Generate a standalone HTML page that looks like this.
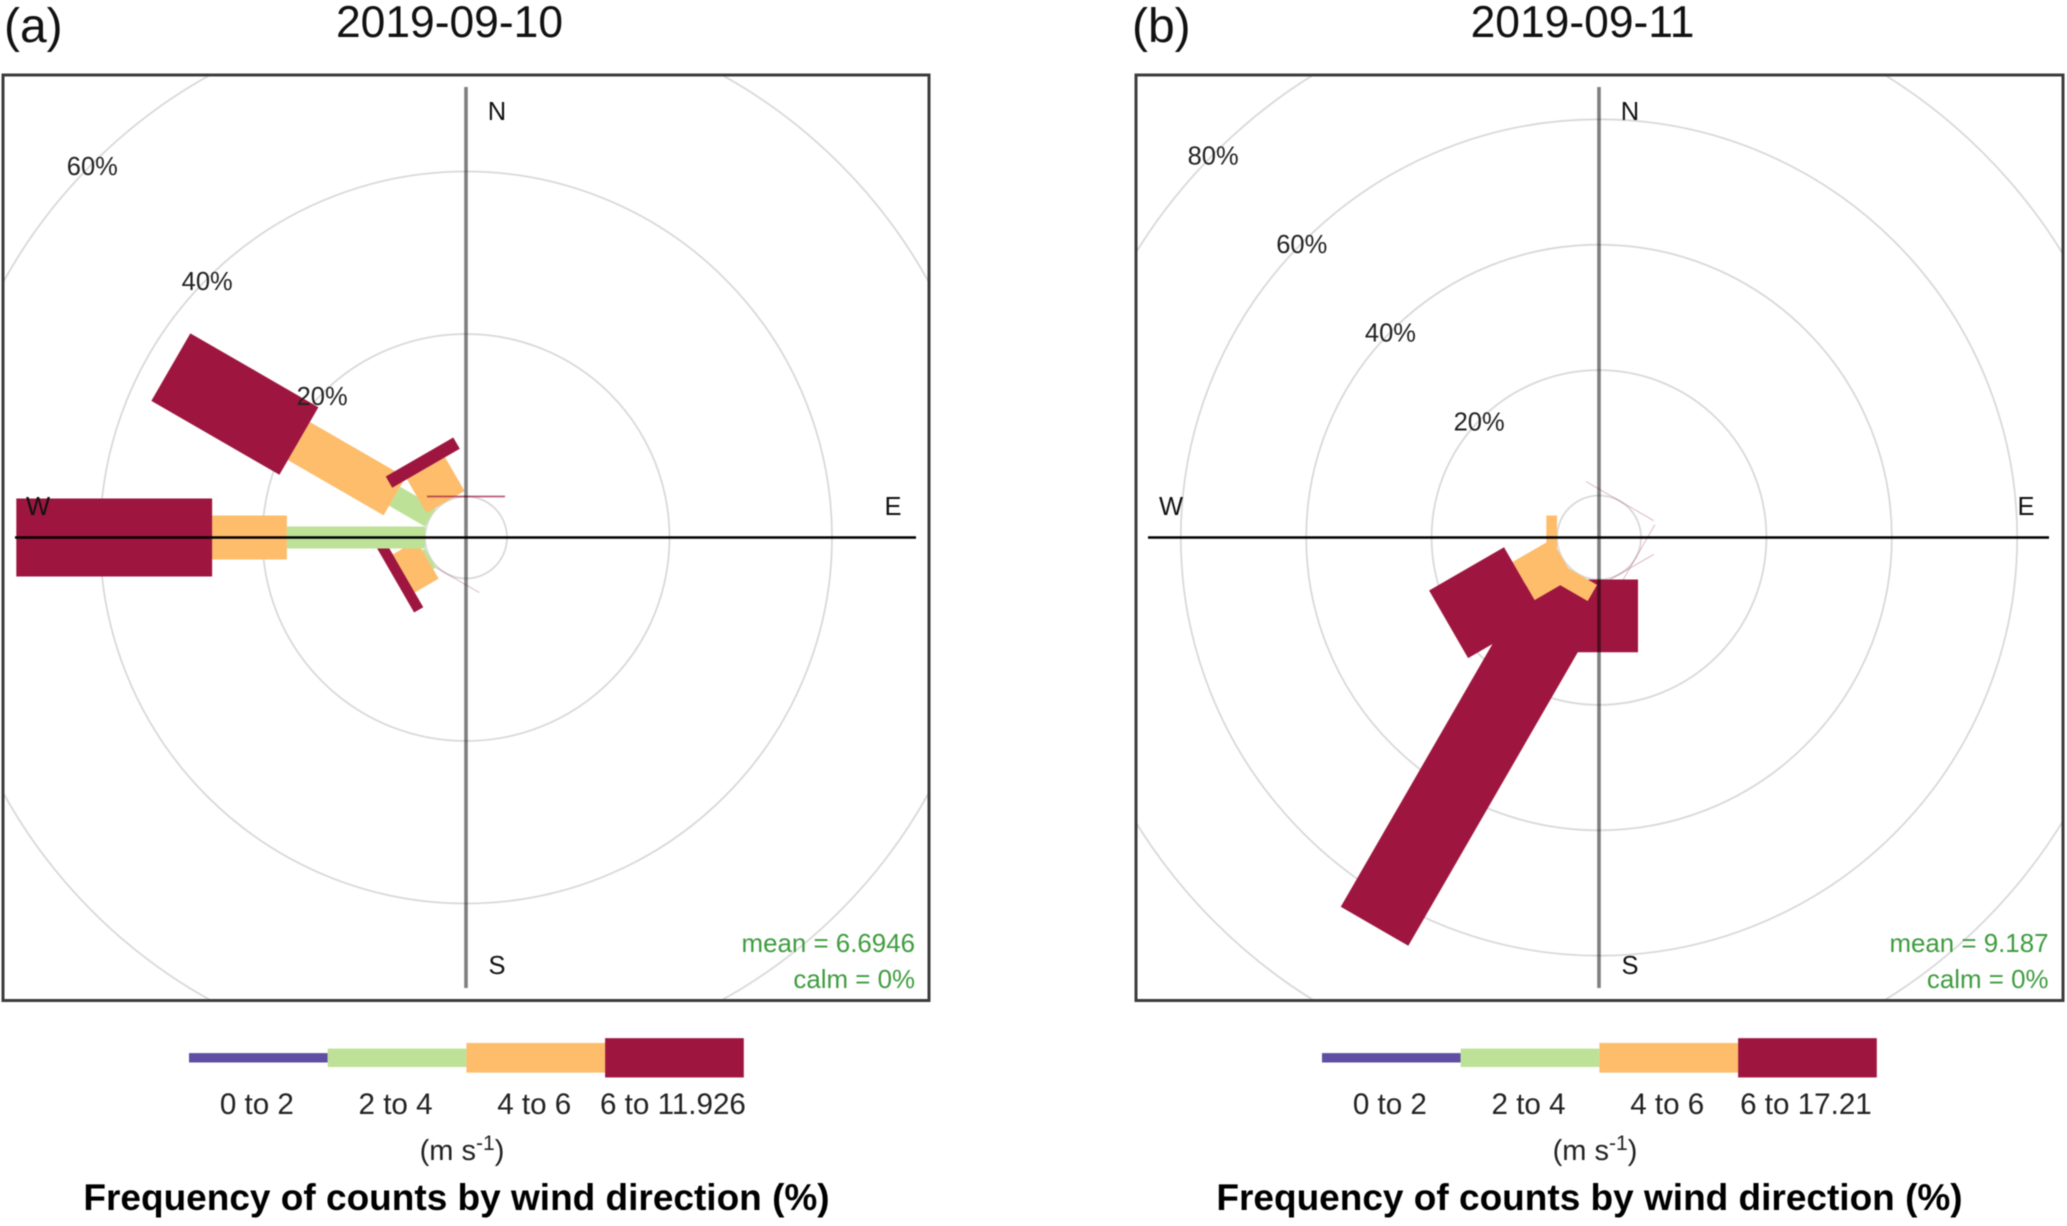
<!DOCTYPE html>
<html lang="en">
<head>
<meta charset="utf-8">
<title>Wind roses 2019-09-10 and 2019-09-11</title>
<style>
html,body{margin:0;padding:0;background:#fff;}
svg{display:block;font-family:"Liberation Sans",Arial,sans-serif;filter:blur(0.55px);}
</style>
</head>
<body>
<svg id="chart" xmlns="http://www.w3.org/2000/svg" width="2067" height="1226" viewBox="0 0 2067 1226">
  <rect x="0" y="0" width="2067" height="1226" fill="#ffffff"/>
  <defs>
    <clipPath id="clip-a"><rect x="3" y="75" width="926" height="926"/></clipPath>
    <clipPath id="clip-b"><rect x="1136" y="75" width="927" height="926"/></clipPath>
  </defs>
</svg>
<script>
// Panel (a) data: percent frequency by direction and speed bin
const directionsA = [210, 240, 270, 300, 330, 360];
const green2to4A = [0, 0.4, 17.0, 5.1, 0, 0];
const orange4to6A = [0, 3.4, 9.2, 13.6, 4.8, 0];
const maroon6plusA = [0, 1.3, 24.1, 18.2, 1.6, 0];
const ringTicksA = [20, 40, 60];
const legendLabelsA = ['0 to 2', '2 to 4', '4 to 6', '6 to 11.926'];
const titleA = '2019-09-10';
const tagA = '(a)';
const meanTextA = 'mean = 6.6946';

// Panel (b) data
const directionsB = [30, 120, 150, 180, 210, 240, 270];
const green2to4B = [0, 0, 0, 0, 0, 0, 0];
const orange4to6B = [0, 0, 0, 0, 3.0, 7.2, 1.7];
const maroon6plusB = [0, 0, 0, 11.6, 61.9, 13.8, 0];
const ringTicksB = [20, 40, 60, 80];
const legendLabelsB = ['0 to 2', '2 to 4', '4 to 6', '6 to 17.21'];
const titleB = '2019-09-11';
const tagB = '(b)';
const meanTextB = 'mean = 9.187';

const calmText = 'calm = 0%';
const axisTitle = 'Frequency of counts by wind direction (%)';

const NS = 'http://www.w3.org/2000/svg';
const svg = document.getElementById('chart');
const COL = {purple: '#5e4fa2', green: '#bde297', orange: '#fdbd6b', maroon: '#9e163f'};

function make(tag, attrs, parent) {
  const el = document.createElementNS(NS, tag);
  for (const k in attrs) el.setAttribute(k, attrs[k]);
  (parent || svg).appendChild(el);
  return el;
}

function drawText(parent, str, x, y, size, anchor, fill, weight) {
  const t = make('text', {x: x, y: y, 'font-size': size, 'text-anchor': anchor, fill: fill, 'font-weight': weight || 'normal'}, parent);
  t.textContent = str;
  return t;
}

function drawPanel(p) {
  const panel = make('g', {});
  
  

  const rScale = pct => p.r0 + pct * p.step;
  const px = (dir, r) => p.cx + r * Math.sin(dir * Math.PI / 180);
  const py = (dir, r) => p.cy - r * Math.cos(dir * Math.PI / 180);

  const tag = drawText(panel, p.tag, p.tagX, 42, 48, 'start', '#111');
  
  

  const title = drawText(panel, p.title, p.titleX, 37, 44.4, 'middle', '#111');
  
  

  const clipped = make('g', {'clip-path': 'url(#clip-' + p.id + ')'}, panel);
  
  

  // grid rings
  [0].concat(p.ticks).forEach(tick => {
    const ring = make('circle', {cx: p.cx, cy: p.cy, r: rScale(tick), fill: 'none', stroke: '#d9d9d9', 'stroke-width': 1.8}, clipped);
    
    
  });

  // bars
  const halfWidth = {green: 11, orange: 22, maroon: 39};
  const segment = (dir, from, to, key) => {
    const hw = halfWidth[key];
    const c = Math.cos(dir * Math.PI / 180), s = Math.sin(dir * Math.PI / 180);
    const r1 = rScale(from), r2 = rScale(to);
    const pts = [
      [px(dir, r1) - hw * c, py(dir, r1) - hw * s],
      [px(dir, r1) + hw * c, py(dir, r1) + hw * s],
      [px(dir, r2) + hw * c, py(dir, r2) + hw * s],
      [px(dir, r2) - hw * c, py(dir, r2) - hw * s]
    ].map(q => q[0].toFixed(2) + ',' + q[1].toFixed(2)).join(' ');
    return make('polygon', {points: pts, fill: COL[key]}, clipped);
  };
  p.dirs.forEach((dir, i) => {
    const g = p.green[i], o = p.orange[i], m = p.maroon[i];
    if (g + o + m === 0) {
      const line = segment(dir, 0, 0, 'maroon');
      line.setAttribute('fill', 'none');
      line.setAttribute('stroke', COL.maroon);
      line.setAttribute('stroke-width', dir === 360 ? 1.8 : 1);
      line.setAttribute('stroke-opacity', dir === 360 ? 0.7 : 0.3);
      
      
      return;
    }
    if (g > 0) {
      const bar = segment(dir, 0, g, 'green');
      
      
    }
    if (o > 0) {
      const bar = segment(dir, g, g + o, 'orange');
      
      
    }
    if (m > 0) {
      const bar = segment(dir, g + o, g + o + m, 'maroon');
      
      
    }
  });

  // axes cross
  const ns = make('line', {x1: p.cx, y1: 87, x2: p.cx, y2: 988, stroke: '#000', 'stroke-opacity': 0.5, 'stroke-width': 3.6}, panel);
  
  
  const ew = make('line', {x1: p.cx - 451, y1: p.cy, x2: p.cx + 450, y2: p.cy, stroke: '#000', 'stroke-width': 2.4}, panel);
  
  

  // ring labels at 315 degrees
  p.ticks.forEach(tick => {
    const lab = drawText(panel, tick + '%', px(315, rScale(tick)) + p.ringLabelDx, py(315, rScale(tick)) + 11.2, 25.5, 'middle', '#222');
    
    
  });

  // compass labels
  const compass = [['N', 31, 120], ['S', 31, 974], ['W', -428, 515], ['E', 427, 515]];
  compass.forEach(cp => {
    const lab = drawText(panel, cp[0], p.cx + cp[1], cp[2], 25.5, 'middle', '#111');
    
    
  });

  // stats
  const meanT = drawText(panel, p.mean, p.statsX, 952, 25.9, 'end', '#3f9c3f');
  
  
  const calmT = drawText(panel, calmText, p.statsX, 988, 25.9, 'end', '#3f9c3f');
  
  

  // frame
  const frame = make('rect', {x: p.fx, y: 75, width: p.fw, height: 925.5, fill: 'none', stroke: '#3c3c3c', 'stroke-width': 3}, panel);
  
  

  // legend
  const swatchKeys = ['purple', 'green', 'orange', 'maroon'];
  const swatchHeight = [9.4, 18.4, 29.7, 39.3];
  const swatchW = 138.7;
  p.legend.forEach((label, i) => {
    const x = p.lx + i * swatchW;
    const sw = make('rect', {x: x, y: 1057.8 - swatchHeight[i] / 2, width: swatchW, height: swatchHeight[i], fill: COL[swatchKeys[i]]}, panel);
    
    
    const t = drawText(panel, label, x + swatchW / 2 - 1.5, 1114, 29.6, 'middle', '#222');
    
    
  });

  const unit = make('text', {x: p.lx + 273, y: 1160, 'font-size': 29, 'text-anchor': 'middle', fill: '#222'}, panel);
  
  
  unit.appendChild(document.createTextNode('(m s'));
  const sup = make('tspan', {dy: -10, 'font-size': 21}, unit);
  sup.textContent = '-1';
  const close = make('tspan', {dy: 10, 'font-size': 29}, unit);
  close.textContent = ')';

  const at = drawText(panel, axisTitle, p.lx + 267.5, 1210, 37, 'middle', '#000', 'bold');
  
  
}

drawPanel({
  id: 'a', cx: 466, cy: 537.5, r0: 41, step: 8.125, ringLabelDx: 0,
  dirs: directionsA, green: green2to4A, orange: orange4to6A, maroon: maroon6plusA,
  ticks: ringTicksA, legend: legendLabelsA, title: titleA, tag: tagA, mean: meanTextA,
  tagX: 4, titleX: 449.5, statsX: 915, fx: 3, fw: 926, lx: 189
});
drawPanel({
  id: 'b', cx: 1599, cy: 537.5, r0: 42, step: 6.27, ringLabelDx: -1.5,
  dirs: directionsB, green: green2to4B, orange: orange4to6B, maroon: maroon6plusB,
  ticks: ringTicksB, legend: legendLabelsB, title: titleB, tag: tagB, mean: meanTextB,
  tagX: 1132, titleX: 1582.5, statsX: 2048.5, fx: 1136, fw: 927, lx: 1322
});
</script>
</body>
</html>
